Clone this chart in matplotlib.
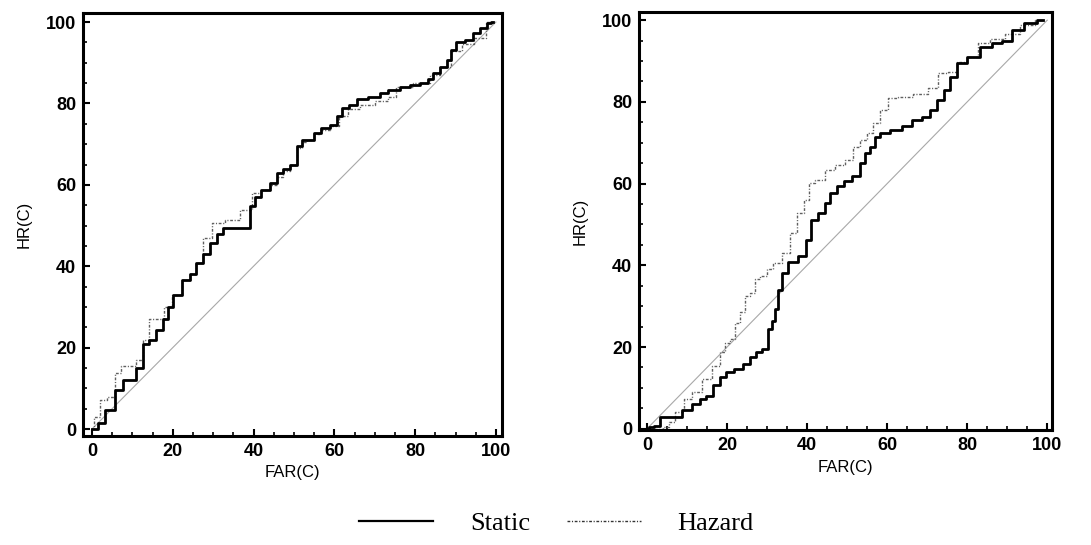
import matplotlib
matplotlib.use('Agg')
import matplotlib.pyplot as plt
from matplotlib.lines import Line2D
from matplotlib.ticker import MultipleLocator

# left panel: (FAR, HR) corners of the staircases
left_static_far = [0, 1, 2, 4.5, 7, 8.6, 10, 12, 13.5, 15, 16.8, 18.5, 19.3, 21, 23.4, 25, 26.7,
                   28.4, 30, 31.7, 33.3, 38.3, 40, 40.8, 43, 45, 46.5, 48, 50, 51.5, 52.3,
                   54.4, 55.6, 58, 60, 61.4, 62.6, 64.7, 66.3, 70.5, 72, 74.6, 77.9, 79.5,
                   82.8, 83.7, 85.3, 87, 88.6, 89.4, 91, 93.6, 95.2, 96.9, 98.5, 99.3]
left_static_hr = [0, 0, 1.6, 4.7, 9.7, 12, 12, 15, 21, 22, 24.4, 27, 30, 33, 36.7, 38, 40.8,
                  43, 45.7, 48, 49.4, 49.4, 54.7, 57, 58.8, 60.4, 63, 64, 65, 69.5, 71,
                  71, 72.7, 74, 74.8, 77, 79, 79.7, 81, 81.7, 82.6, 83.4, 84, 84.6,
                  85, 86, 87.5, 89, 90.7, 93.2, 95, 95.7, 97.3, 98.5, 99.8, 100]

left_hazard_far = [0, 1.2, 2.8, 4.5, 7, 7.3, 10, 12, 13.5, 15, 17, 18.5, 21, 23.4, 25, 26.7,
                   28.4, 31, 35, 38.3, 40.8, 43, 45, 46.5, 48, 50, 51.5, 52.3, 54.4, 55.6,
                   58, 60, 62.2, 64.7, 68, 72, 74.6, 76, 83, 84.5, 88, 90, 93, 96, 99.3]
left_hazard_hr = [0, 3, 7.2, 8, 13.8, 15.4, 15.4, 17, 22, 27, 27, 30, 33, 36.7, 38, 40.8,
                  47, 50.6, 51.4, 53.9, 58, 58.8, 60, 62, 63.5, 65, 69, 70.5, 71, 72.4,
                  73.5, 74.4, 77, 78.7, 79.7, 80.5, 81.7, 84, 85, 87, 89, 93, 94.5, 96, 100]

# right panel
right_static_far = [0, 1, 2.4, 4, 7.4, 10, 12.4, 14, 15.7, 17.4, 19, 20.7, 23, 25, 26.6, 28,
                    29.5, 30.75, 31.6, 32.4, 33.25, 34, 36.6, 39, 40.3, 41.6, 44, 45, 46.6,
                    48.3, 50, 52.4, 54, 55, 56.6, 57.4, 59, 62.4, 65, 67.4, 70, 71.6, 73.25,
                    75, 76.6, 78.25, 81.6, 85, 87.4, 90, 92.4, 95.75, 99]
right_static_hr = [0, 0.4, 0.8, 2.8, 2.8, 4.5, 6, 7.3, 8.1, 10.6, 12.6, 13.8, 14.6, 15.9, 17.5,
                   18.7, 19.5, 24.4, 26.4, 29.3, 34, 38.2, 40.7, 42.3, 46.3, 51.2, 52.8, 55.3,
                   57.7, 59.3, 60.6, 61.8, 65, 67.5, 69, 71.5, 72.4, 73.2, 74, 75.6, 76.4, 78,
                   80.5, 83, 86, 89.4, 91, 93.5, 94.3, 95, 97.6, 99.2, 100]

right_hazard_far = [0, 3, 5, 5.75, 8.25, 10, 12.4, 15, 17.4, 19, 20, 21.6, 22.4, 24, 25, 26.6,
                    27.4, 29, 30.75, 32.4, 35, 36.6, 38.25, 40, 40.75, 43.25, 45.75, 48.25,
                    50.75, 52.4, 54, 55.75, 57.4, 59, 61.6, 64, 69, 71.6, 74, 76.6, 78.25,
                    81.6, 84, 87.4, 91.6, 95, 99]
right_hazard_hr = [0, 0, 0.4, 1.6, 4, 7.3, 9, 12.2, 15.4, 18.7, 21.1, 22, 26, 28.5, 32.5, 33.3,
                   36.6, 37.4, 39, 40.6, 43, 48, 52.8, 56, 60.2, 61, 63.4, 64.6,
                   65.8, 69, 70.7, 72.4, 74.8, 78, 81, 81.3, 82, 83.3, 87, 87.4, 89.8,
                   91, 94.3, 95.5, 96.7, 98.8, 100]

chance = [0, 100]

plt.rcParams['font.family'] = ['Liberation Sans', 'DejaVu Sans']

fig = plt.figure(figsize=(10.91, 5.45), dpi=100)
ax1 = fig.add_axes([0.0761, 0.2, 0.384, 0.776])
ax2 = fig.add_axes([0.5857, 0.211, 0.3786, 0.767])

hazard_dash = (0, (2.0, 1.2, 0.8, 1.2))

panels = [
    (ax1, left_static_far, left_static_hr, left_hazard_far, left_hazard_hr, (-2.2, 101.5), (-1.7, 102.2)),
    (ax2, right_static_far, right_static_hr, right_hazard_far, right_hazard_hr, (-2.0, 101.2), (-0.3, 102.0)),
]

for ax, sx, sy, hx, hy, xl, yl in panels:
    ax.plot(chance, chance, color='#a8a8a8', lw=0.8, zorder=1)
    ax.plot(hx, hy, drawstyle='steps-mid', color='#606060', lw=1.0, linestyle=hazard_dash, zorder=2)
    ax.plot(sx, sy, drawstyle='steps-mid', color='black', lw=2.0, zorder=3)
    ax.set_xlim(*xl)
    ax.set_ylim(*yl)
    ax.xaxis.set_major_locator(MultipleLocator(20))
    ax.xaxis.set_minor_locator(MultipleLocator(5))
    ax.yaxis.set_major_locator(MultipleLocator(20))
    ax.yaxis.set_minor_locator(MultipleLocator(5))
    ax.tick_params(which='major', direction='in', length=5, width=1.5, labelsize=13, pad=5)
    ax.tick_params(which='minor', direction='in', length=3, width=1.2)
    for lab in ax.get_xticklabels() + ax.get_yticklabels():
        lab.set_fontweight('bold')
    for sp in ax.spines.values():
        sp.set_linewidth(2.2)
    ax.set_xlabel('FAR(C)', fontsize=12, labelpad=4)
    ax.set_ylabel('HR(C)', fontsize=12, labelpad=10)

handles = [
    Line2D([], [], color='black', lw=1.6),
    Line2D([], [], color='#333333', lw=1.0, linestyle=hazard_dash),
]
fig.legend(handles, ['Static', 'Hazard'], loc='center', bbox_to_anchor=(0.51, 0.04),
           ncol=2, frameon=False, handlelength=2.8, columnspacing=1.4, handletextpad=1.4,
           prop={'family': 'Liberation Serif', 'size': 19})

fig.savefig('out.png', dpi=100)
